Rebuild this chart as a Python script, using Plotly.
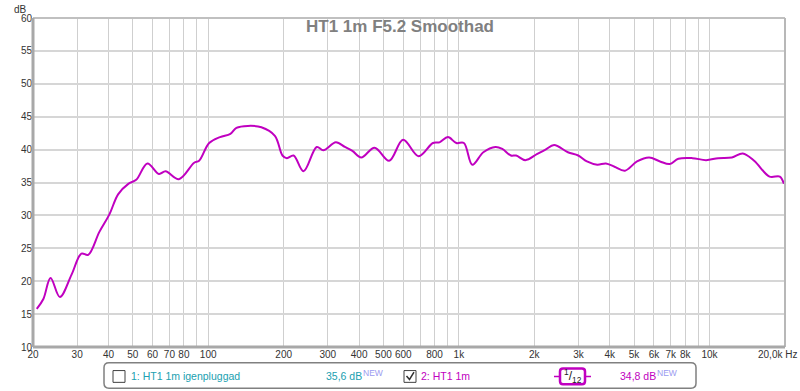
import plotly.graph_objects as go

# ---- data ----
freq_hz = [20.7, 22.0, 23.5, 25.6, 28.5, 31.2, 33.2, 36.8, 40.4, 43.7, 48.0, 51.6,
           57.2, 63.6, 67.6, 76.4, 87.9, 92.0, 100.9, 111.5, 122.6, 129.6, 144, 163,
           184.5, 197.8, 206, 219, 240, 271, 288, 323, 351, 376, 408, 461, 527, 599,
           691, 788, 837, 904, 977, 1047, 1131, 1252, 1399, 1490, 1613, 1692, 1842,
           2047, 2216, 2398, 2722, 2993, 3242, 3565, 3860, 4178, 4597, 5136, 5739,
           6346, 6936, 7510, 8547, 9687, 10826, 12280, 13570, 15060, 17350, 19070, 19800]
spl_db = [15.8, 17.3, 20.5, 17.6, 21.0, 24.2, 24.0, 27.5, 30.2, 33.2, 34.8, 35.4,
          37.9, 36.3, 36.7, 35.5, 38.0, 38.3, 41.0, 41.9, 42.4, 43.3, 43.6, 43.4,
          42.1, 39.1, 38.7, 39.1, 36.7, 40.4, 39.9, 41.1, 40.4, 39.8, 38.8, 40.3, 38.3, 41.5,
          39.0, 41.0, 41.1, 41.9, 41.0, 41.0, 37.7, 39.6, 40.4, 40.1, 39.1, 39.1, 38.4,
          39.3, 40.0, 40.7, 39.6, 39.1, 38.2, 37.7, 37.9, 37.4, 36.8, 38.2, 38.8,
          38.2, 37.8, 38.6, 38.7, 38.4, 38.7, 38.8, 39.4, 38.3, 35.9, 35.9, 34.8]

x_grid = [20, 30, 40, 50, 60, 70, 80, 90, 100, 200, 300, 400, 500, 600, 700, 800, 900,
          1000, 2000, 3000, 4000, 5000, 6000, 7000, 8000, 9000, 10000, 20000]
x_labels = ["20", "30", "40", "50", "60", "70", "80", "", "100", "200", "300", "400",
            "500", "600", "", "800", "", "1k", "2k", "3k", "4k", "5k", "6k", "7k", "8k",
            "", "10k", ""]
y_ticks = [10, 15, 20, 25, 30, 35, 40, 45, 50, 55, 60]

title_text = "HT1 1m F5.2 Smoothad"
legend1_name = "1: HT1 1m igenpluggad"
legend1_value = "35,6 dB"
legend2_name = "2: HT1 1m"
legend2_value = "34,8 dB"

# ---- layout geometry (pixels) ----
W, H = 800, 391
L, R, T, B = 33, 785, 12, 347
PW, PH = R - L, B - T


def px(x):
    return (x - L) / PW


def py(y):
    return (B - y) / PH


FONT = "Liberation Sans, Arial, sans-serif"
MAG = "#c000c0"
TEAL = "#20a0b0"
NEWC = "#9a9af0"

fig = go.Figure()
fig.add_trace(go.Scatter(x=freq_hz, y=spl_db, mode="lines",
                         line=dict(color=MAG, width=2, shape="spline", smoothing=1.0),
                         hoverinfo="skip", showlegend=False))

fig.update_layout(
    width=W, height=H,
    margin=dict(l=L, r=W - R, t=T, b=H - B),
    paper_bgcolor="white", plot_bgcolor="white",
    font=dict(family=FONT, size=10, color="#333333"),
    showlegend=False,
)
fig.update_xaxes(type="log", range=[1.30103, 4.30103], tickvals=x_grid, ticktext=x_labels,
                 showgrid=True, gridcolor="#cfcfcf", gridwidth=1, zeroline=False,
                 showline=False, ticks="", tickfont=dict(size=10, color="#333333"))
fig.update_yaxes(range=[10, 60], tickvals=y_ticks, showgrid=True, gridcolor="#d6d6d6",
                 gridwidth=1.5, zeroline=False, showline=False, ticks="",
                 tickfont=dict(size=10, color="#333333"))

shapes = []
# plot frame
shapes.append(dict(type="line", xref="paper", yref="paper", x0=0, x1=1, y0=1, y1=1,
                   line=dict(color="#c0c0c0", width=2)))
shapes.append(dict(type="line", xref="paper", yref="paper", x0=0, x1=0, y0=0, y1=1,
                   line=dict(color="#a8a8a8", width=3)))
shapes.append(dict(type="line", xref="paper", yref="paper", x0=1, x1=1, y0=0, y1=1,
                   line=dict(color="#b8b8b8", width=2)))
shapes.append(dict(type="line", xref="paper", yref="paper", x0=0, x1=1, y0=0, y1=0,
                   line=dict(color="#a8a8a8", width=3)))


def rounded_rect(x0, y0, x1, y1, r):
    pts = [
        f"M {px(x0 + r)} {py(y0)}",
        f"L {px(x1 - r)} {py(y0)}",
        f"Q {px(x1)} {py(y0)} {px(x1)} {py(y0 + r)}",
        f"L {px(x1)} {py(y1 - r)}",
        f"Q {px(x1)} {py(y1)} {px(x1 - r)} {py(y1)}",
        f"L {px(x0 + r)} {py(y1)}",
        f"Q {px(x0)} {py(y1)} {px(x0)} {py(y1 - r)}",
        f"L {px(x0)} {py(y0 + r)}",
        f"Q {px(x0)} {py(y0)} {px(x0 + r)} {py(y0)}",
        "Z",
    ]
    return " ".join(pts)


# legend box
shapes.append(dict(type="path", xref="paper", yref="paper",
                   path=rounded_rect(104, 363, 696, 389, 5),
                   line=dict(color="#808080", width=1.5)))
# checkboxes
for cx in (113, 404):
    shapes.append(dict(type="rect", xref="paper", yref="paper",
                       x0=px(cx), x1=px(cx + 12), y0=py(371), y1=py(383),
                       line=dict(color="#404040", width=1)))
# check mark
shapes.append(dict(type="path", xref="paper", yref="paper",
                   path=f"M {px(406.5)} {py(376.5)} L {px(409.5)} {py(380)} L {px(414)} {py(372.5)}",
                   line=dict(color="#303030", width=1.5)))
# smoothing icon
shapes.append(dict(type="line", xref="paper", yref="paper", x0=px(554), x1=px(591),
                   y0=py(377), y1=py(377), line=dict(color=MAG, width=1.5)))
shapes.append(dict(type="path", xref="paper", yref="paper",
                   path=rounded_rect(560, 369, 585, 385, 3), fillcolor="white",
                   line=dict(color=MAG, width=2.5)))

annotations = []
annotations.append(dict(xref="paper", yref="paper", x=px(400), y=py(21), text=f"<b>{title_text}</b>",
                        showarrow=False, xanchor="center", yanchor="middle",
                        font=dict(family=FONT, size=17, color="#808080")))
annotations.append(dict(xref="paper", yref="paper", x=px(13), y=py(3), text="dB",
                        showarrow=False, xanchor="left", yanchor="middle", borderpad=0,
                        font=dict(family=FONT, size=10, color="#333333")))
annotations.append(dict(xref="paper", yref="paper", x=px(799), y=py(355), text="20,0k Hz",
                        showarrow=False, xanchor="right", yanchor="middle",
                        font=dict(family=FONT, size=10, color="#333333")))


def label(x, y, text, color, size=11, anchor="left"):
    annotations.append(dict(xref="paper", yref="paper", x=px(x), y=py(y), text=text,
                            showarrow=False, xanchor=anchor, yanchor="middle", borderpad=0,
                            font=dict(family=FONT, size=size, color=color)))


label(130, 377, legend1_name, TEAL, size=10.5)
label(363, 377, legend1_value, TEAL, size=10.5, anchor="right")
label(362, 373, "NEW", NEWC, size=8.5)
label(420, 377, legend2_name, MAG, size=10.5)
label(657, 377, legend2_value, MAG, size=10.5, anchor="right")
label(656, 373, "NEW", NEWC, size=8.5)
label(572.5, 377, "<sup>1</sup>/<sub>12</sub>", "#202020", size=12, anchor="center")

fig.update_layout(shapes=shapes, annotations=annotations)
fig.write_html(
    "out.html",
    config={"displayModeBar": False},
    post_script="document.documentElement.style.margin='0';document.body.style.margin='0';"
                "document.body.style.overflow='hidden';",
)
